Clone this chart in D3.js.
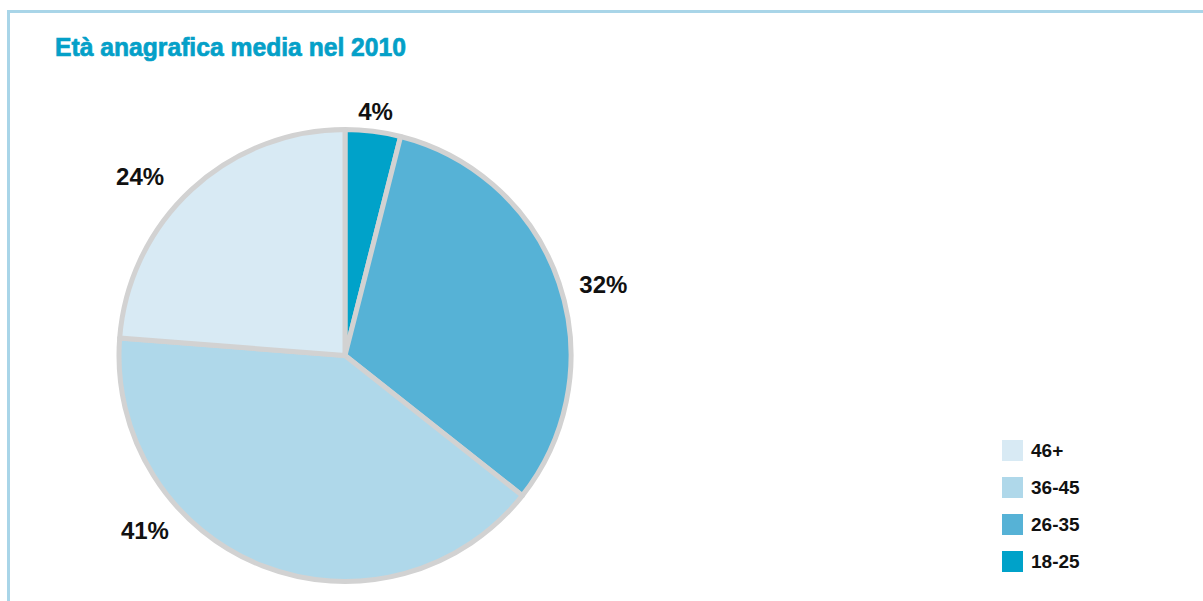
<!DOCTYPE html>
<html>
<head>
<meta charset="utf-8">
<script src="https://cdn.jsdelivr.net/npm/d3@7"></script>
<style>
  html, body { margin: 0; padding: 0; background: #ffffff; }
  svg { display: block; }
</style>
</head>
<body>
<svg id="chart" width="1203" height="601"></svg>
<script>
// Age groups, clockwise from 12 o'clock
const categories = ["18-25", "26-35", "36-45", "46+"];
const values = [4, 32, 41, 24];
const valueLabels = ["4%", "32%", "41%", "24%"];
const colors = ["#00a2c9", "#56b2d6", "#afd8ea", "#d8eaf4"];
// Legend lists groups oldest first
const legendOrder = ["46+", "36-45", "26-35", "18-25"];
const title = "Età anagrafica media nel 2010";

const svg = d3.select("#chart");

// Light blue panel frame, running off the right and bottom edges
svg.append("rect")
  .attr("x", 8.5).attr("y", 11.5)
  .attr("width", 1300).attr("height", 700)
  .attr("fill", "#ffffff")
  .attr("stroke", "#a9d5e8")
  .attr("stroke-width", 3);

// Title
svg.append("text")
  .attr("x", 55).attr("y", 56)
  .attr("font-family", "Liberation Sans, Arial, sans-serif")
  .attr("font-weight", "bold")
  .attr("font-size", 26)
  .attr("fill", "#04a0c8")
  .attr("stroke", "#04a0c8")
  .attr("stroke-width", 0.7)
  .attr("textLength", 351)
  .attr("lengthAdjust", "spacingAndGlyphs")
  .text(title);

// Pie
const cx = 345, cy = 355.5, radius = 226;
const color = d3.scaleOrdinal().domain(categories).range(colors);

const pie = d3.pie().sort(null).value(d => d.value);
const data = categories.map((c, i) => ({ cat: c, value: values[i], label: valueLabels[i] }));
const arcs = pie(data);
const arc = d3.arc().innerRadius(0).outerRadius(radius);

const g = svg.append("g").attr("transform", `translate(${cx},${cy})`);

g.selectAll("path.slice")
  .data(arcs)
  .join("path")
  .attr("class", "slice")
  .attr("d", arc)
  .attr("fill", d => color(d.data.cat))
  .attr("stroke", "#d2d2d2")
  .attr("stroke-width", 5)
  .attr("stroke-linejoin", "round");

// Value labels outside the slices: angle shift from the slice middle (deg) and distance
const labelShift = [0, 3.3, 27.4, -6.1];
const labelDist = [246, 268, 266, 272];
g.selectAll("text.val")
  .data(arcs)
  .join("text")
  .attr("class", "val")
  .attr("text-anchor", "middle")
  .attr("dominant-baseline", "central")
  .attr("font-family", "Liberation Sans, Arial, sans-serif")
  .attr("font-weight", "bold")
  .attr("font-size", 24)
  .attr("fill", "#111111")
  .attr("transform", (d, i) => {
    const a = (d.startAngle + d.endAngle) / 2 + labelShift[i] * Math.PI / 180;
    const r = labelDist[i];
    return `translate(${r * Math.sin(a)},${-r * Math.cos(a)})`;
  })
  .text(d => d.data.label);

// Legend
const legend = svg.append("g").attr("transform", "translate(1002,440)");
const row = legend.selectAll("g")
  .data(legendOrder)
  .join("g")
  .attr("transform", (d, i) => `translate(0,${i * 37})`);
row.append("rect")
  .attr("width", 21).attr("height", 21)
  .attr("fill", d => color(d));
row.append("text")
  .attr("x", 29).attr("y", 10.5)
  .attr("dominant-baseline", "central")
  .attr("font-family", "Liberation Sans, Arial, sans-serif")
  .attr("font-weight", "bold")
  .attr("font-size", 19)
  .attr("fill", "#111111")
  .text(d => d);
</script>
</body>
</html>
